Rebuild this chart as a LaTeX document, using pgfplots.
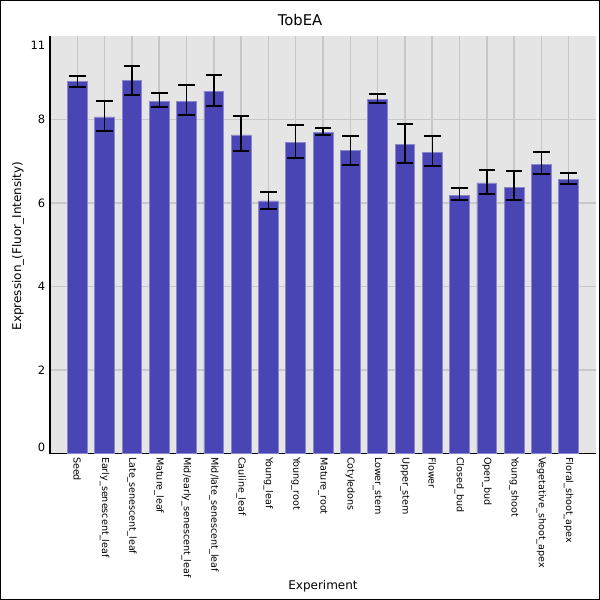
\documentclass[border=0pt]{standalone}
\usepackage{pgfplots}
\pgfplotsset{compat=1.18}
\usepackage{pgfplotstable}
\usepackage{fontspec}
\setmainfont{DejaVu Sans}
\definecolor{barc}{HTML}{4A45B4}
\definecolor{bare}{HTML}{8A87CC}
\definecolor{bg}{HTML}{E5E5E5}
\definecolor{gridc}{HTML}{C8C8C8}
\pgfplotstableread{
x y ep em
0 8.905 0.135 0.135
1 8.06 0.38 0.33
2 8.93 0.35 0.35
3 8.44 0.19 0.14
4 8.44 0.38 0.33
5 8.68 0.39 0.35
6 7.63 0.45 0.38
7 6.05 0.22 0.19
8 7.46 0.41 0.38
9 7.68 0.11 0.06
10 7.25 0.35 0.34
11 8.48 0.13 0.08
12 7.41 0.48 0.44
13 7.22 0.38 0.33
14 6.19 0.17 0.12
15 6.48 0.31 0.26
16 6.38 0.39 0.32
17 6.93 0.28 0.24
18 6.57 0.14 0.11
}\data
\begin{document}
\begin{tikzpicture}[x=1pt,y=1pt]
\useasboundingbox (0,0) rectangle (600,600);
\begin{axis}[
  at={(50pt,146.5pt)}, anchor=south west,
  scale only axis, width=546pt, height=417.5pt,
  xmin=-1, xmax=19, ymin=0, ymax=10,
  ybar, bar width=19.8pt,
  axis background/.style={fill=bg},
  axis x line*=bottom, axis y line*=left,
  axis line style={-, black, line width=1.3pt},
  major tick length=0pt,
  xtick={0,...,18},
  xticklabels={Seed,Early\_senescent\_leaf,Late\_senescent\_leaf,Mature\_leaf,Mid/early\_senescent\_leaf,Mid/late\_senescent\_leaf,Cauline\_leaf,Young\_leaf,Young\_root,Mature\_root,Cotyledons,Lower\_stem,Upper\_stem,Flower,Closed\_bud,Open\_bud,Young\_shoot,Vegetative\_shoot\_apex,Floral\_shoot\_apex},
  xticklabel style={rotate=-90, anchor=west, font=\fontsize{9.6}{11}\selectfont},
  ytick={2,4,6,8}, yticklabels={2,4,6,8},
  extra y ticks={0.16,9.78}, extra y tick labels={0,11},
  extra y tick style={grid=none},
  yticklabel style={font=\fontsize{11.5}{13}\selectfont, inner sep=4.5pt},
  /pgf/number format/assume math mode=true,
  xmajorgrids, ymajorgrids,
  grid style={gridc, line width=1.5pt},
]
\addplot[fill=barc, draw=bare, line width=0.8pt,
  error bars/.cd, y dir=both, y explicit,
  error bar style={black, line width=1.4pt},
  error mark options={black, rotate=90, mark size=8.3pt, line width=2pt}]
  table[x=x, y=y, y error plus=ep, y error minus=em]{\data};
\end{axis}
\node[font=\fontsize{14.8}{17}\selectfont, anchor=base] at (300,574) {TobEA};
\node[font=\fontsize{12}{14}\selectfont, anchor=base] at (323,10.7) {Experiment};
\node[rotate=90, font=\fontsize{12}{14}\selectfont] at (18,354) {Expression\_(Fluor\_Intensity)};
\draw[line width=1pt] (0.5,0.5) rectangle (599.5,599.5);
\end{tikzpicture}
\end{document}
